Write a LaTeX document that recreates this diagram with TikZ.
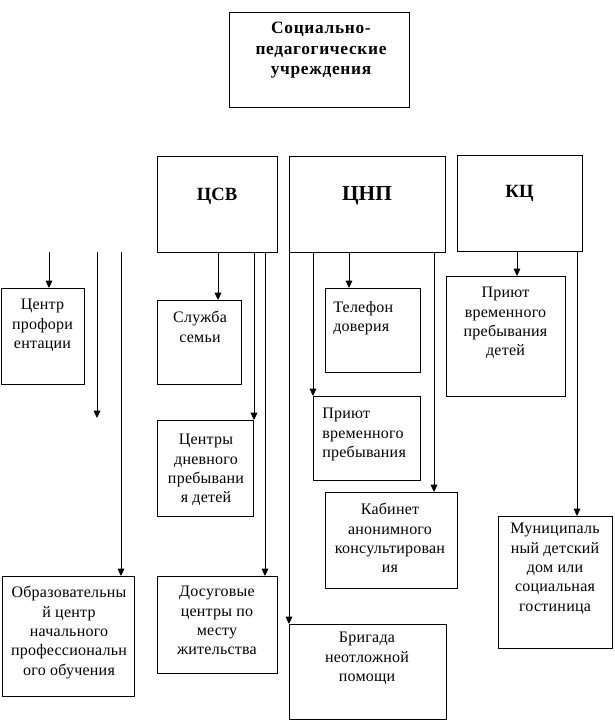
\documentclass[tikz,border=0pt]{standalone}
\usepackage{fontspec}
\setmainfont{Liberation Serif}
\usetikzlibrary{arrows.meta,fit}
\begin{document}
\begin{tikzpicture}[x=0.75pt,y=-0.75pt,
  box/.style={draw, line width=0.75pt, inner sep=0pt, outer sep=0pt},
  txt/.style={inner sep=0pt, align=center, font=\fontsize{12}{14.5}\selectfont\addfontfeatures{LetterSpace=1.5}},
  txtl/.style={inner sep=0pt, align=left, font=\fontsize{12}{14.5}\selectfont\addfontfeatures{LetterSpace=1.5}},
  ttl/.style={inner sep=0pt, font=\fontsize{14}{16}\selectfont\bfseries},
  arr/.style={line width=0.75pt, -{Triangle[length=5.5pt,width=5pt]}},
  ln/.style={line width=0.75pt}]
\useasboundingbox (0,0) rectangle (614,721);
% boxes
\node[box, fit={(229,12) (409,107)}] (top) {};
\node[box, fit={(157,156) (277,252)}] (csv) {};
\node[box, fit={(289,156) (445,252)}] (cnp) {};
\node[box, fit={(457,155) (582,251)}] (kc) {};
\node[box, fit={(1,288) (84,384)}] (prof) {};
\node[box, fit={(2,576) (134,696)}] (obr) {};
\node[box, fit={(157,300) (241,384)}] (sem) {};
\node[box, fit={(157,420) (253,516)}] (dnev) {};
\node[box, fit={(157,576) (277,673)}] (dos) {};
\node[box, fit={(325,288) (420,372)}] (tel) {};
\node[box, fit={(313,396) (420,480)}] (pri1) {};
\node[box, fit={(325,492) (457,588)}] (kab) {};
\node[box, fit={(289,624) (446,719)}] (brig) {};
\node[box, fit={(446,276) (565,396)}] (pri2) {};
\node[box, fit={(498,516) (612,648)}] (mun) {};
% titles
\node[inner sep=0pt, align=center, font=\fontsize{13}{15.2}\selectfont\bfseries\addfontfeatures{LetterSpace=4}, anchor=north] (topT) at (321,22) {Социально-\\педагогические\\учреждения};
\node[ttl, anchor=base] (csvT) at (217,200) {ЦСВ};
\node[ttl, font=\fontsize{16}{18}\selectfont\bfseries, anchor=base] (cnpT) at (367,200) {ЦНП};
\node[ttl, anchor=base] (kcT) at (519.5,197) {КЦ};
% texts
\node[txt, anchor=north] (profT) at (42.5,299) {Центр\\профори\\ентации};
\node[txt, anchor=north] (semT) at (200,311) {Служба\\семьи};
\node[txt, anchor=north] (dnevT) at (206,434) {Центры\\дневного\\пребывани\\я детей};
\node[txt, anchor=north] (obrT) at (69,586) {Образовательны\\й центр\\начального\\профессиональн\\ого обучения};
\node[txt, anchor=north] (dosT) at (217,586) {Досуговые\\центры по\\месту\\жительства};
\node[txtl, anchor=north west] (telT) at (333,301) {Телефон\\доверия};
\node[txtl, anchor=north west] (pri1T) at (322,408) {Приют\\временного\\пребывания};
\node[txt, anchor=north] (kabT) at (390,503) {Кабинет\\анонимного\\консультирован\\ия};
\node[txt, anchor=north] (brigT) at (367,632) {Бригада\\неотложной\\помощи};
\node[txt, anchor=north] (pri2T) at (505.5,287) {Приют\\временного\\пребывания\\детей};
\node[txt, anchor=north] (munT) at (555,523) {Муниципаль\\ный детский\\дом или\\социальная\\гостиница};
% x positions
\coordinate (a1) at (49,252);
\coordinate (a2) at (97,252);
\coordinate (a3) at (121,252);
\coordinate (e2) at (97,418);
\coordinate (x218) at (218,0);
\coordinate (x254) at (254,0);
\coordinate (x265) at (265,0);
\coordinate (x289) at (289,0);
\coordinate (x313) at (313,0);
\coordinate (x349) at (349,0);
\coordinate (x434) at (434,0);
\coordinate (x517) at (517,0);
\coordinate (x577) at (577,0);
% connectors
\draw[arr] (a1) -- (a1 |- prof.north);
\draw[arr] (a2) -- (e2);
\draw[arr] (a3) -- (a3 |- obr.north);
\draw[arr] (csv.south -| x218) -- (sem.north -| x218);
\draw[arr] (csv.south -| x254) -- (dnev.north -| x254);
\draw[arr] (csv.south -| x265) -- (dos.north -| x265);
\draw[arr] (cnp.south -| x289) -- (brig.north -| x289);
\draw[arr] (cnp.south -| x313) -- (pri1.north -| x313);
\draw[arr] (cnp.south -| x349) -- (tel.north -| x349);
\draw[arr] (cnp.south -| x434) -- (kab.north -| x434);
\draw[arr] (kc.south -| x517) -- (pri2.north -| x517);
\draw[arr] (kc.south -| x577) -- (mun.north -| x577);
\end{tikzpicture}
\end{document}
